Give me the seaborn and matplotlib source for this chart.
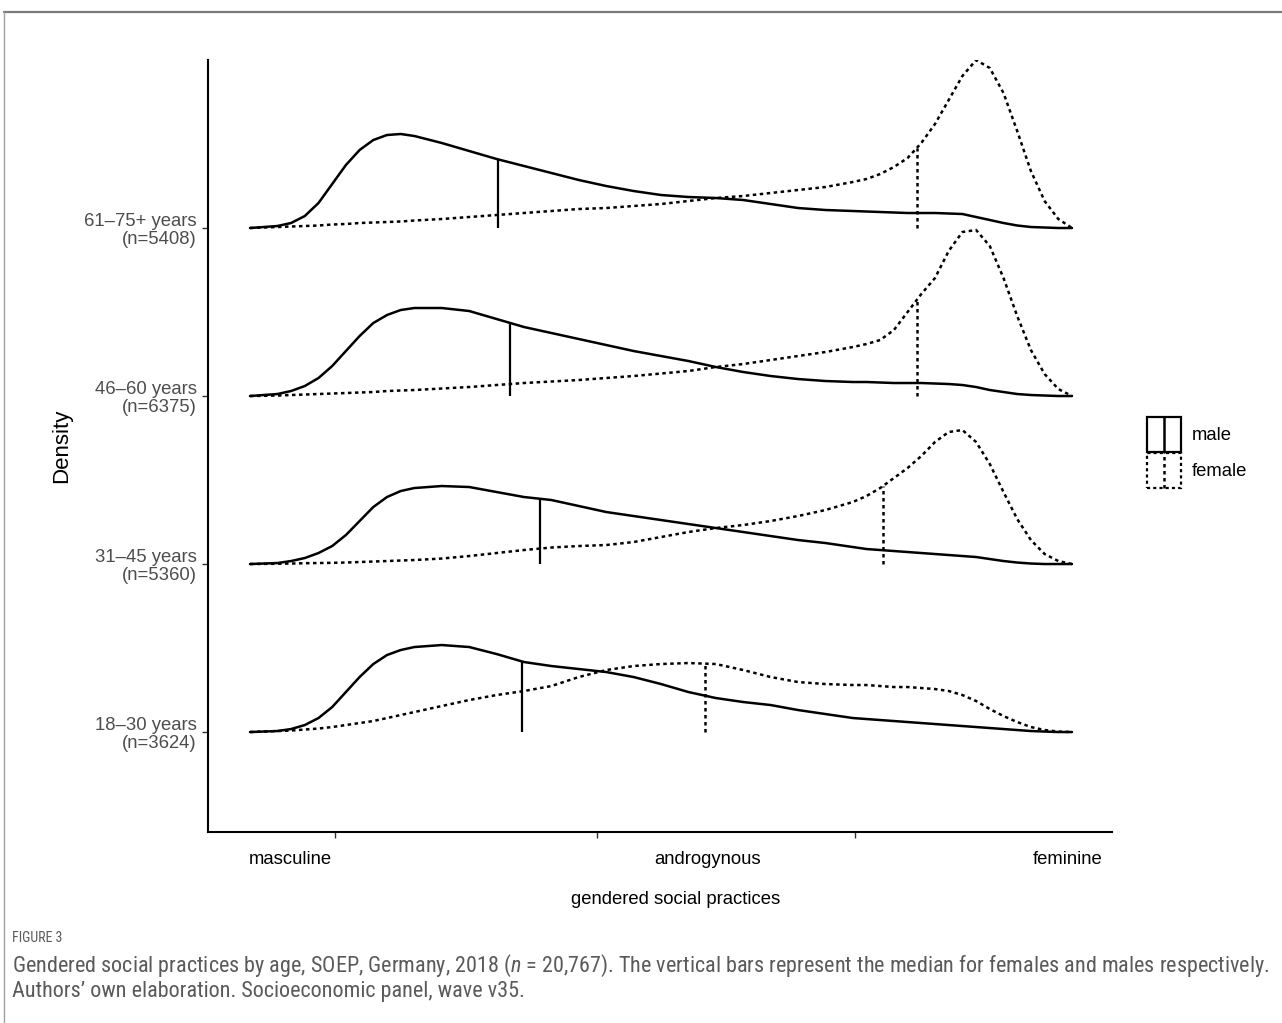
import numpy as np
import pandas as pd
import matplotlib
matplotlib.use("Agg")
import matplotlib.pyplot as plt
from matplotlib import font_manager
from matplotlib.patches import Rectangle
from matplotlib.lines import Line2D
import seaborn as sns

# x = gendered social practices score, common grid for all density curves
x_grid = [0, 1, 1.5, 2, 2.5, 3, 3.5, 4, 4.5, 5, 5.5, 6,
          7, 8, 9, 10, 11, 12, 13, 14, 15, 16, 17, 18, 19, 20, 21, 22,
          22.5, 23, 23.5, 24, 24.5, 25, 25.5, 26, 26.5, 27, 27.5, 28, 28.5, 29, 29.5, 30]

groups = ["18\u201330 years\n(n=3624)", "31\u201345 years\n(n=5360)",
          "46\u201360 years\n(n=6375)", "61\u201375+ years\n(n=5408)"]

# densities (arbitrary units)
male_18 = [0, 1, 3, 7, 14, 25, 40, 55, 68, 77, 82, 85,
           87, 85, 78, 70, 66, 63, 60, 55, 48, 40, 34, 30, 27, 22, 18, 14,
           13, 12, 11, 10, 9, 8, 7, 6, 5, 4, 3, 2, 1, 0.5, 0, 0]
female_18 = [0, 1, 1.5, 2.5, 3.5, 5, 7, 9, 11, 14, 17, 20,
             26, 32, 37, 41, 46, 55, 62, 66, 68, 69, 68, 62, 55, 50, 48, 47,
             47, 46, 45, 45, 44, 43, 41, 37, 31, 23, 16, 10, 5, 2, 0.5, 0]
male_31 = [0, 1, 3, 6, 11, 18, 29, 43, 57, 67, 73, 76,
           78, 77, 72, 67, 64, 58, 52, 48, 44, 40, 36, 32, 28, 24, 21, 17,
           15, 14, 13, 12, 11, 10, 9, 8, 7, 5, 3, 1.5, 0.5, 0, 0, 0]
female_31 = [0, 0.3, 0.5, 0.8, 1, 1.2, 1.5, 2, 2.5, 3, 3.5, 4,
             5.5, 8, 11, 14, 16.5, 18, 19, 22, 27, 32, 36, 39, 43, 48, 54, 62,
             68, 76, 86, 96, 108, 122, 132, 134, 122, 100, 72, 45, 24, 10, 3, 0]
male_46 = [0, 2, 5, 10, 18, 30, 45, 60, 73, 81, 86, 88,
           88, 85, 77, 69, 63, 57, 51, 45, 40, 35, 29, 24, 20, 17, 15, 14,
           14, 13.5, 13, 13, 13, 12.5, 12, 11, 9, 6, 4, 2, 1, 0.5, 0, 0]
female_46 = [0, 0.5, 1, 1.5, 2, 2.5, 3, 3.5, 4, 5, 5.5, 6,
             7.5, 9, 11, 13, 14.5, 16, 18, 20, 22.5, 25, 29, 32, 36, 40, 44, 49,
             52, 56, 66, 84, 102, 118, 145, 164, 166, 150, 118, 80, 46, 22, 7, 0]
male_61 = [0, 2, 5, 12, 25, 44, 63, 78, 88, 93, 94, 92,
           85, 77, 69, 62, 55, 48, 42, 37, 33, 31, 30, 28, 24, 20, 18, 17,
           16.5, 16, 15.5, 15, 15, 15, 14.5, 14, 11, 8, 5, 2.5, 1, 0.5, 0, 0]
female_61 = [0, 1, 1.5, 2, 2.5, 3.5, 4, 5, 5.5, 6, 6.5, 7.5,
             9, 11, 13, 15, 17, 19, 20, 22, 24, 27, 30, 32, 35, 38, 41, 46,
             49, 54, 61, 70, 85, 104, 128, 152, 168, 160, 135, 97, 57, 27, 9, 0]

male_dens = [male_18, male_31, male_46, male_61]
female_dens = [female_18, female_31, female_46, female_61]

# medians per group
median_male = [9.93, 10.58, 9.49, 9.05]
median_female = [16.61, 23.10, 24.34, 24.34]

x_tick_pos = [3.10, 12.66, 22.08]
x_labels = ["masculine", "androgynous", "feminine"]
x_label_pos = [1.46, 16.7, 29.85]

ridge_scale = 1 / 168.0

sns.set_theme(style="white")
plt.rcParams["font.family"] = ["Liberation Sans", "DejaVu Sans"]

W, H = 1282, 1023
fig = plt.figure(figsize=(W / 100, H / 100), dpi=100)


def fx(px):
    return px / W


def fy(py):
    return 1 - py / H


ax = fig.add_axes([fx(208), fy(832), fx(1112) - fx(208), fy(60) - fy(832)])

rows = []
for i, g in enumerate(groups):
    for sex, dens in (("male", male_dens[i]), ("female", female_dens[i])):
        for xv, d in zip(x_grid, dens):
            rows.append({"x": xv, "y": i + d * ridge_scale, "group": g, "sex": sex})
df = pd.DataFrame(rows)

sns.lineplot(data=df, x="x", y="y", units="group", style="sex", estimator=None,
             color="black", dashes={"male": "", "female": (1.4, 1.4)},
             linewidth=1.8, legend=False, sort=False, ax=ax)

for i in range(len(groups)):
    hm = np.interp(median_male[i], x_grid, male_dens[i]) * ridge_scale
    hf = np.interp(median_female[i], x_grid, female_dens[i]) * ridge_scale
    ax.vlines(median_male[i], i, i + hm, color="black", linewidth=1.6)
    ax.vlines(median_female[i], i, i + hf, color="black", linewidth=1.8,
              linestyles=(0, (1.4, 1.4)))

ax.set_xlim(-1.533, 31.46)
ax.set_ylim(-0.595, 4.0)

for s in ["top", "right"]:
    ax.spines[s].set_visible(False)
for s in ["left", "bottom"]:
    ax.spines[s].set_color("black")
    ax.spines[s].set_linewidth(1.5)

ax.set_xticks(x_tick_pos)
ax.set_xticklabels([])
ax.set_yticks(range(len(groups)))
ax.set_yticklabels(groups, fontsize=13.3, color="#4d4d4d", linespacing=1.05)
ax.tick_params(axis="both", direction="out", length=4, width=1.0, color="#333333",
               left=True, bottom=True)
ax.tick_params(axis="y", pad=4)

for xp, lab in zip(x_label_pos, x_labels):
    ax.text(xp, -0.036, lab, transform=ax.get_xaxis_transform(), ha="center",
            va="center", fontsize=13.3, color="black")

ax.set_xlabel("gendered social practices", fontsize=13.3, color="black")
ax.set_ylabel("Density", fontsize=16, color="black")
ax.xaxis.set_label_coords((676 - 208) / 904, (832 - 899) / 772)
ax.yaxis.set_label_coords((62 - 208) / 904, 0.5)
ax.xaxis.label.set_va("center")
ax.yaxis.label.set_va("center")

# legend drawn by hand: boxed keys with median bar
for top, ls, lab in ((417, "-", "male"), (453, (0, (1.4, 1.4)), "female")):
    fig.add_artist(Rectangle((fx(1147), fy(top + 35)), fx(1181) - fx(1147), 35 / H,
                             transform=fig.transFigure, fill=False,
                             edgecolor="black", linewidth=1.6, linestyle=ls))
    fig.add_artist(Line2D([fx(1164), fx(1164)], [fy(top + 35), fy(top)],
                          transform=fig.transFigure, color="black",
                          linewidth=1.8, linestyle=ls))
    fig.text(fx(1192), fy(top + 18), lab, fontsize=13.3, va="center", ha="left",
             color="black")

# frame
fig.add_artist(Line2D([fx(4), 1], [fy(12), fy(12)], transform=fig.transFigure,
                      color="#7a7a7a", linewidth=1.6))
fig.add_artist(Line2D([fx(4), fx(4)], [0, fy(12)], transform=fig.transFigure,
                      color="#a0a0a0", linewidth=1.0))

# caption
names = {f.name for f in font_manager.fontManager.ttflist}
cap_font = "DejaVu Sans"
for cand in ["Liberation Sans Narrow", "Roboto Condensed", "Open Sans", "Lato"]:
    if cand in names:
        cap_font = cand
        break
plt.rcParams["mathtext.fontset"] = "custom"
plt.rcParams["mathtext.it"] = cap_font + ":italic"
plt.rcParams["mathtext.rm"] = cap_font

fig.text(fx(12), fy(938), "FIGURE 3", fontsize=10, color="#5a5a5a", va="center",
         family=cap_font)
cap1 = fig.text(fx(12), fy(966),
                "Gendered social practices by age, SOEP, Germany, 2018 ($n$ = 20,767). "
                "The vertical bars represent the median for females and males respectively.",
                fontsize=12, color="#5a5a5a", va="center", family=cap_font)
cap2 = fig.text(fx(12), fy(992),
                "Authors\u2019 own elaboration. Socioeconomic panel, wave v35.",
                fontsize=12, color="#5a5a5a", va="center", family=cap_font)

fig.canvas.draw()
w = cap1.get_window_extent().width
size = 12 * 1258 / w
cap1.set_fontsize(size)
cap2.set_fontsize(size)

fig.savefig("out.png", dpi=100)
